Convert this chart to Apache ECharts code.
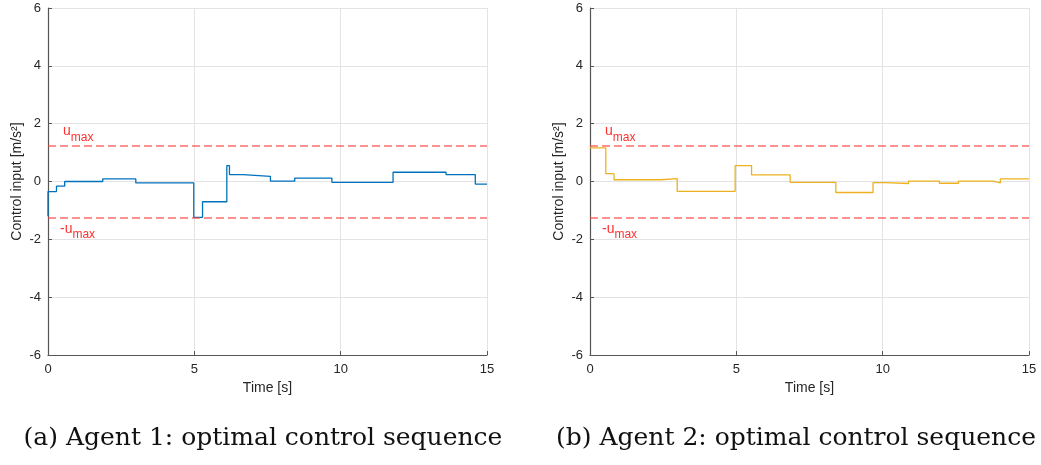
<!DOCTYPE html>
<html><head><meta charset="utf-8">
<script src="https://cdn.jsdelivr.net/npm/echarts@6/dist/echarts.min.js"></script>
<style>html,body{margin:0;padding:0;background:#fff}#c{width:1041px;height:465px}</style>
</head><body><div id="c"></div>
<script>
// Agent 1: switch times and held values
const agent1Times = [0, 0, 0.29, 0.57, 1.87, 3.0, 4.98, 5.28, 6.11, 6.2, 6.66, 7.6, 8.43, 9.7, 11.79, 13.6, 14.6, 15];
const agent1Values = [-1.2, -0.35, -0.16, 0.0, 0.09, -0.05, -1.24, -0.70, 0.55, 0.24, 0.18, 0.01, 0.12, -0.03, 0.32, 0.24, -0.09, -0.09];
// Agent 2
const agent2Times = [0, 0.54, 0.82, 2.43, 2.98, 4.96, 5.52, 6.84, 8.4, 9.67, 10.1, 10.88, 11.94, 12.59, 13.77, 14.02, 15];
const agent2Values = [1.16, 0.27, 0.06, 0.10, -0.34, 0.55, 0.23, -0.03, -0.38, -0.04, -0.07, 0.01, -0.06, 0.01, -0.05, 0.09, 0.09];
const uMax = 1.25;
const xTicks = [0, 5, 10, 15];
const yTicks = [-6, -4, -2, 0, 2, 4, 6];
const captions = ['(a) Agent 1: optimal control sequence', '(b) Agent 2: optimal control sequence'];

const font = 'Liberation Sans, Arial, Helvetica, sans-serif';
const red = 'rgba(255,60,60,0.75)';
const grids = [
  {left: 48, right: 554, top: 8, bottom: 110},
  {left: 590, right: 12, top: 8, bottom: 110}
];
function xAxis(i){
  return {gridIndex:i, type:'value', min:0, max:15, interval:5, name:'Time [s]', nameLocation:'middle', nameGap:25,
    nameTextStyle:{fontFamily:font, fontSize:14, color:'#262626'},
    axisLine:{show:true, onZero:false, lineStyle:{color:'#555', width:1.2}},
    axisTick:{show:true, inside:true, length:4, lineStyle:{color:'#555'}},
    axisLabel:{fontFamily:font, fontSize:13, color:'#262626', margin:8},
    splitLine:{show:true, lineStyle:{color:'#e3e3e3', width:1}}};
}
function yAxis(i){
  return {gridIndex:i, type:'value', min:-6, max:6, interval:2, name:'Control input [m/s²]', nameLocation:'middle', nameGap:24,
    nameTextStyle:{fontFamily:font, fontSize:14, color:'#262626'},
    axisLine:{show:true, onZero:false, lineStyle:{color:'#555', width:1.2}},
    axisTick:{show:true, inside:true, length:4, lineStyle:{color:'#555'}},
    axisLabel:{fontFamily:font, fontSize:13, color:'#262626', margin:7},
    splitLine:{show:true, lineStyle:{color:'#e3e3e3', width:1}}};
}
const richLab = {
  u:{fontFamily:font, fontSize:14, color:'#ff3030', verticalAlign:'top', lineHeight:19},
  m:{fontFamily:font, fontSize:12, color:'#ff3030', verticalAlign:'bottom', lineHeight:19}
};
function limits(i){
  return {type:'line', xAxisIndex:i, yAxisIndex:i, data:[], silent:true,
    markLine:{symbol:'none', silent:true, lineStyle:{color:red, type:[8,4], width:1.5},
      data:[
        {yAxis: uMax, label:{show:true, position:'insideStartTop', distance:[15,2], formatter:'{u|u}{m|max}', rich:richLab}},
        {yAxis: -uMax, label:{show:true, position:'insideStartBottom', distance:[12,4], formatter:'{u|-u}{m|max}', rich:richLab}}
      ]}};
}
const s1 = agent1Times.map((t,k)=>[t, agent1Values[k]]);
const s2 = agent2Times.map((t,k)=>[t, agent2Values[k]]);
const chart = echarts.init(document.getElementById('c'));
const capStyle = {fontFamily:'DejaVu Serif, serif', fontSize:25, fontWeight:'normal', color:'#111'};
chart.setOption({
  animation:false,
  grid: grids,
  xAxis:[xAxis(0), xAxis(1)],
  yAxis:[yAxis(0), yAxis(1)],
  title: [
    {text:captions[0], left:258, textAlign:'center', top:421, textStyle:capStyle},
    {text:captions[1], left:791, textAlign:'center', top:421, textStyle:capStyle}
  ],
  series:[
    {type:'line', xAxisIndex:0, yAxisIndex:0, step:'end', data:s1, showSymbol:false, lineStyle:{color:'#0072BD', width:1.3}, z:3},
    {type:'line', xAxisIndex:1, yAxisIndex:1, step:'end', data:s2, showSymbol:false, lineStyle:{color:'#EDB120', width:1.3}, z:3},
    limits(0), limits(1)
  ]
});
</script></body></html>
